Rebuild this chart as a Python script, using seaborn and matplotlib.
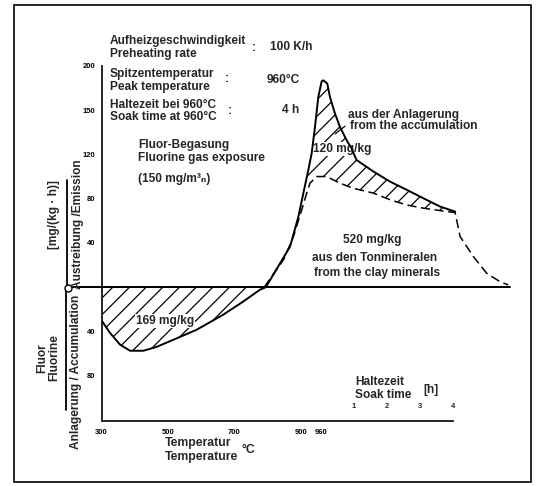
import numpy as np
import matplotlib
matplotlib.use("Agg")
import matplotlib.pyplot as plt
import seaborn as sns
from matplotlib.lines import Line2D
from matplotlib.patches import Rectangle

# ---------------- data ----------------
# x = process time in h counted from 300 °C (heating at 100 K/h, so 1 h = 100 K),
# soak at 960 °C starts at 6.6 h
total_t = [0.0, 0.26, 0.56, 0.86, 1.26, 1.66, 2.16, 2.86, 3.66, 4.27, 4.77, 4.95,
           5.38, 5.68, 5.93, 6.08, 6.23, 6.33, 6.43, 6.53, 6.63, 6.68, 6.8, 6.88,
           7.03, 7.18, 7.38, 7.53, 7.68, 8.19, 8.69, 9.19, 9.69, 10.2, 10.65]
total_v = [-30, -41.5, -52, -57.5, -57.5, -54, -47.6, -38.6, -25, -13, -2.4, 0,
           21.7, 36.7, 63.8, 85, 106, 121, 145, 172, 186, 187, 184, 172,
           157, 145, 133, 125.5, 115, 104.5, 95.4, 88, 80.4, 72.8, 68.3]
clay_t = [4.9, 5.48, 5.78, 6.03, 6.18, 6.28, 6.48, 6.78, 7.18, 7.58, 8.19, 8.69,
          9.19, 9.69, 10.2, 10.65, 10.8, 11.2, 11.6, 12.0, 12.25]
clay_v = [0, 24.7, 45.7, 69.8, 85, 94, 100, 100, 94, 89.4, 85, 79,
          74.3, 71.4, 69.2, 67.4, 45.7, 27.6, 12.6, 5, 2]

temp_ticks = [300, 400, 500, 600, 700, 800, 900, 960]
temp_labels = ["300", "", "500", "", "700", "", "900", "960"]
soak_hours = [1, 2, 3, 4]
soak_labels = ["1", "2", "3", "4"]
y_ticks = [-80, -40, 40, 80, 120, 160, 200]
y_labels = ["80", "40", "40", "80", "120", "150", "200"]

# ---------------- style ----------------
sns.set_style("white")
plt.rcParams["font.family"] = ["Liberation Sans", "DejaVu Sans"]
plt.rcParams["hatch.linewidth"] = 0.9

W, H = 545, 486
fig = plt.figure(figsize=(W / 100, H / 100), dpi=100)

def fx(px):
    return px / W

def fy(py):
    return 1 - py / H

ax = fig.add_axes([fx(101.5), fy(421), 408.4 / W, 355.1 / H])
ax.set_xlim(0, 12.3)
ax.set_ylim(-121, 200)

t_tot = np.array(total_t)
v_tot = np.array(total_v)
t_cl = np.array(clay_t)
v_cl = np.array(clay_v)

# hatched areas
low = t_tot <= 4.95
ax.fill_between(t_tot[low], v_tot[low], 0, facecolor="none", edgecolor="black",
                hatch="//", linewidth=0, zorder=1)
s_sel = (t_tot >= 6.08)
c_sel = (t_cl >= 6.18) & (t_cl <= 10.65)
poly_x = np.concatenate([t_tot[s_sel], t_cl[c_sel][::-1]])
poly_y = np.concatenate([v_tot[s_sel], v_cl[c_sel][::-1]])
ax.fill(poly_x, poly_y, facecolor="none", edgecolor="black", hatch="//",
        linewidth=0, zorder=1)

sns.lineplot(x=total_t, y=total_v, ax=ax, color="black", linewidth=1.4,
             sort=False, estimator=None, zorder=3)
sns.lineplot(x=clay_t, y=clay_v, ax=ax, color="black", linewidth=1.1,
             linestyle=(0, (6, 3)), sort=False, estimator=None, zorder=3)

# zero line from the circle marker
ax.axhline(0, xmin=(68.3 - 101.5) / 408.4, xmax=1, clip_on=False, color="black",
           lw=1.4, zorder=3)

# axes styling
for s in ["top", "right"]:
    ax.spines[s].set_visible(False)
ax.spines["left"].set_linewidth(1.4)
ax.spines["bottom"].set_linewidth(1.4)
soak_start = (960 - 300) / 100
ax.spines["bottom"].set_bounds(0, soak_start + soak_hours[-1])

xt = [(T - 300) / 100 for T in temp_ticks] + [soak_start + h for h in soak_hours]
xl = temp_labels + [""] * len(soak_hours)
ax.set_xticks(xt)
ax.set_xticklabels(xl, fontsize=5.5, fontweight="bold")
ax.tick_params(axis="x", direction="inout", length=5, width=1, pad=3, colors="black")
ax.set_yticks(y_ticks)
ax.set_yticklabels(y_labels, fontsize=5.5, fontweight="bold")
ax.tick_params(axis="y", direction="out", length=3, width=1, pad=1.5, colors="black")
ax.set_xlabel("")
ax.set_ylabel("")
ax.grid(False)

for h, lab in zip(soak_hours, soak_labels):
    ax.text(soak_start + h, -108, lab, ha="center", va="center", fontsize=5.5,
            fontweight="bold")

ax.annotate("", xy=(6.97, 137), xytext=(7.4, 147),
            arrowprops=dict(arrowstyle="-", lw=0.9, color="black"))

# ---------------- texts ----------------
FS = 8.6
WHITE = dict(facecolor="white", edgecolor="none", pad=0.6)

def T(px, py, s, ha="left", size=FS, **kw):
    fig.text(fx(px), fy(py), s, ha=ha, va="center", fontsize=size,
             fontweight="bold", zorder=5, **kw)

def TA(px, py, s, ha="left", size=FS, **kw):
    # label inside the hatched area: white box below the curves, above the hatch
    ax.text(fx(px), fy(py), s, ha=ha, va="center", fontsize=size,
            fontweight="bold", transform=fig.transFigure, zorder=2,
            bbox=WHITE, **kw)

T(110, 41, "Aufheizgeschwindigkeit")
T(110, 54.5, "Preheating rate")
T(252, 48, ":")
T(270, 47.5, "100 K/h")
T(110, 73.5, "Spitzentemperatur")
T(110, 87, "Peak temperature")
T(225, 79, ":")
T(267, 80, "960°C")
T(110, 105, "Haltezeit bei 960°C")
T(110, 117, "Soak time at 960°C")
T(228, 111, ":")
T(282, 110, "4 h")
T(138, 145, "Fluor-Begasung")
T(138, 157.5, "Fluorine gas exposure")
T(138, 178.5, "(150 mg/m³ₙ)")
T(348, 115, "aus der Anlagerung")
T(350, 126, "from the accumulation")
TA(313, 149, "120 mg/kg")
T(372, 240, "520 mg/kg", ha="center")
T(375, 258, "aus den Tonmineralen", ha="center")
T(377, 273, "from the clay minerals", ha="center")
TA(165, 321, "169 mg/kg", ha="center")
T(355, 382, "Haltezeit")
T(355, 395, "Soak time")
T(423, 390, "[h]")
T(165, 443, "Temperatur", size=8.8)
T(165, 457, "Temperature", size=8.8)
T(242, 450, "°C", size=8.8)

def V(px, py, s, size=FS, **kw):
    fig.text(fx(px), fy(py), s, ha="center", va="center", rotation=90,
             fontsize=size, fontweight="bold", **kw)

V(54, 215, "[mg/(kg · h)]")
V(77.5, 224, "Austreibung /Emission")
V(76.5, 372, "Anlagerung / Accumulation")
V(48, 358, "Fluor\nFluorine", linespacing=1.05)

# decorative bars, marker, frame
fig.add_artist(Line2D([fx(67), fx(67)], [fy(180), fy(288)], color="black", lw=1.3))
fig.add_artist(Line2D([fx(66), fx(66)], [fy(288), fy(410)], color="black", lw=1.3))
fig.add_artist(Line2D([fx(68.3)], [fy(287.7)], marker="o", ms=5, mfc="white",
                      mec="black", mew=1.0, color="black"))
fig.add_artist(Rectangle((fx(14), fy(482)), (531 - 14) / W, (482 - 5) / H,
                         transform=fig.transFigure, fill=False, lw=1.2,
                         edgecolor="black"))

fig.savefig("out.png", dpi=100)
